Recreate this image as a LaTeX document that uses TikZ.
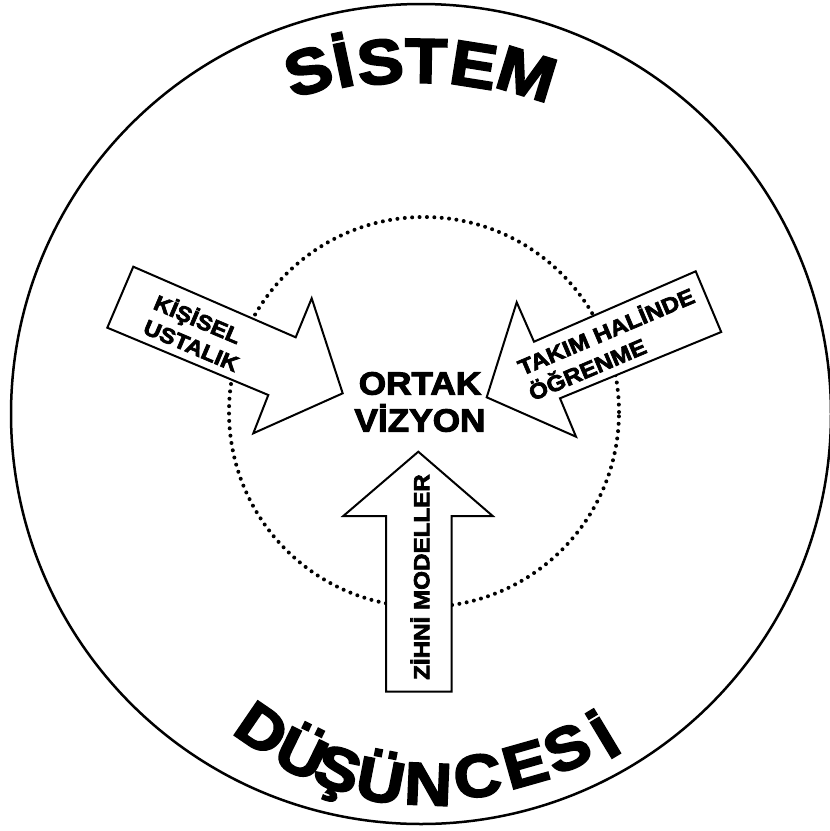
\documentclass[tikz,border=0pt]{standalone}
\usepackage{fontspec}
\newfontfamily\heavy[FakeStretch=1.1, BoldFeatures={FakeBold=3.2}]{Liberation Sans}
\usetikzlibrary{calc}
\begin{document}
\begin{tikzpicture}[x=1pt,y=-1pt,
  outline/.style={draw=black, line width=2pt, fill=white, line join=miter},
  bigletter/.style n args={2}{font={\heavy\bfseries\fontsize{#1}{#1}\selectfont}, inner sep=0pt, text height=#2, text depth=0pt},
  arrowtext/.style n args={2}{font={\heavy\bfseries\fontsize{#1}{#2}\selectfont}, inner sep=0pt}]
\useasboundingbox (0,0) rectangle (830,831);
\fill[white] (0,0) rectangle (830,831);
\coordinate (C) at (421,414);
\coordinate (D) at (424,412);
% outer circle
\draw[line width=2.5pt] (C) circle [radius=410pt];
% dotted inner circle
\draw[line width=4pt, line cap=round, dash pattern=on 0pt off 7.4pt] (D) circle [radius=195pt];
% arrows
\draw[outline] (133.3,266.7) -- (295.7,337.3) -- (311.7,298.3) -- (342.7,393.3) -- (253.3,433.3) -- (268.3,395) -- (107.3,327.7) -- cycle;
\draw[outline] (695.7,271.3) -- (534,341.7) -- (516.7,302.3) -- (486.7,397.3) -- (576,436.7) -- (560,398.3) -- (721.2,332) -- cycle;
\draw[outline] (418.3,451.7) -- (492.7,516) -- (451.7,516) -- (451.7,691.7) -- (386,691.7) -- (386,516) -- (343.3,516) -- cycle;
% arrow texts
\node[arrowtext={21.5pt}{26.5pt}, rotate=-23, align=left] (ku) at (197,332) {KİŞİSEL\\USTALIK};
\node[arrowtext={22pt}{27.5pt}, rotate=23, align=left] (th) at (611,343) {TAKIM HALİNDE\\ÖĞRENME};
\node[arrowtext={22pt}{26pt}, rotate=90] (zm) at (420,577) {ZİHNİ MODELLER};
% centre text
\node[font={\heavy\bfseries\fontsize{32pt}{37pt}\selectfont}, align=center, inner sep=0pt] (ov) at (420,402) {ORTAK\\VİZYON};
% SİSTEM
\foreach \l/\x/\y/\r [count=\i] in {S/308/70/17, İ/343/64/12, S/380/61/6, T/426/60/-1, E/474/64/-9, M/527/73/-17}
  \node[bigletter={63pt}{45.4pt}, rotate=\r] (s\i) at (\x,\y) {\l};
% DÜŞÜNCESİ
\foreach \l/\x/\y/\r [count=\i] in {D/262.7/728.3/-34.4, Ü/301.7/753.3/-26, Ş/338.3/768.3/-18.9, Ü/380.7/780/-11, N/428.3/783.3/-2.4, C/477.3/775/6.7, E/525/763.3/15.8, S/566.7/747.3/24.1, İ/605/737/31}
  \node[bigletter={60pt}{43.2pt}, rotate=\r] (d\i) at (\x,\y) {\l};
\end{tikzpicture}
\end{document}
